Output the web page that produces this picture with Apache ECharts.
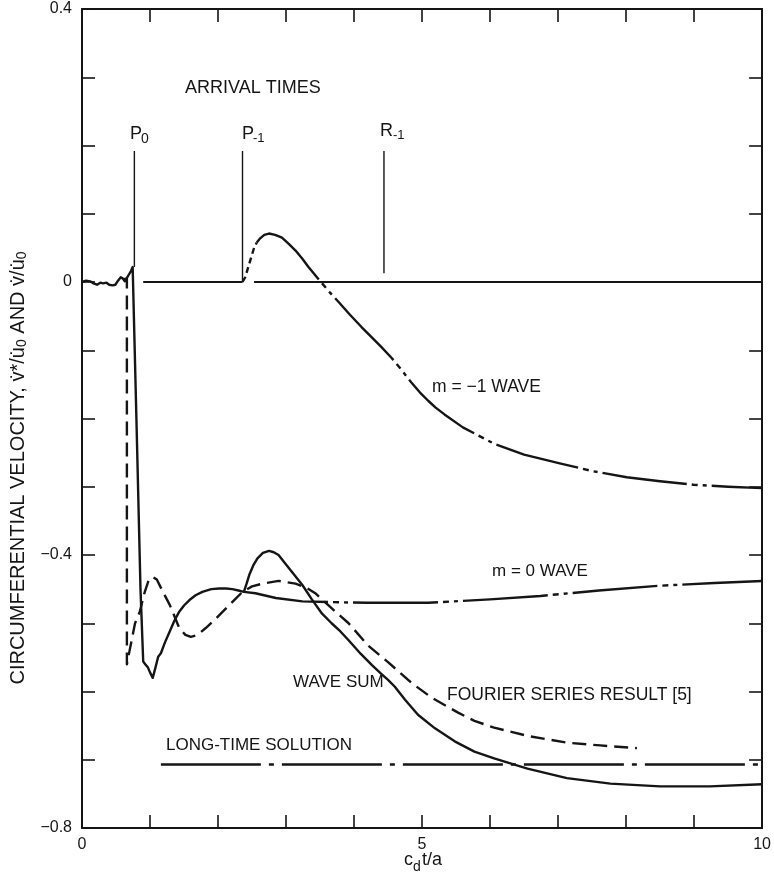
<!DOCTYPE html>
<html>
<head>
<meta charset="utf-8">
<script src="https://cdn.jsdelivr.net/npm/echarts@6/dist/echarts.min.js"></script>
<style>
html,body{margin:0;padding:0;background:#fff;}
#c{width:774px;height:887px;}
</style>
</head>
<body>
<div id="c"></div>
<script>
// ---- data (x = c_d t / a, y = circumferential velocity) ----
const waveSum = [[0,0.000],[0.06,0.002],[0.12,0.001],[0.17,-0.002],[0.22,-0.004],[0.27,-0.001],[0.31,-0.002],[0.36,-0.001],[0.40,-0.004],[0.45,-0.005],[0.49,-0.004],[0.53,0.002],[0.57,0.007],[0.60,0.005],[0.63,0.001],[0.66,0.006],[0.69,0.011],[0.72,0.016],[0.745,0.022],[0.80,-0.20],[0.86,-0.45],[0.90,-0.556],[0.93,-0.560],[0.97,-0.565],[1.00,-0.572],[1.04,-0.580],[1.08,-0.565],[1.12,-0.549],[1.16,-0.544],[1.22,-0.528],[1.29,-0.512],[1.36,-0.496],[1.43,-0.483],[1.50,-0.474],[1.58,-0.466],[1.67,-0.459],[1.77,-0.454],[1.90,-0.450],[2.02,-0.449],[2.12,-0.449],[2.21,-0.450],[2.30,-0.452],[2.38,-0.454],[2.42,-0.442],[2.46,-0.429],[2.52,-0.415],[2.58,-0.405],[2.66,-0.397],[2.75,-0.394],[2.82,-0.396],[2.89,-0.400],[3.00,-0.414],[3.12,-0.429],[3.24,-0.444],[3.38,-0.465],[3.53,-0.486],[3.67,-0.500],[3.80,-0.512],[3.92,-0.525],[4.10,-0.545],[4.26,-0.561],[4.40,-0.574],[4.50,-0.583],[4.60,-0.593],[4.75,-0.612],[4.94,-0.634],[5.19,-0.654],[5.48,-0.673],[5.77,-0.688],[6.06,-0.698],[6.55,-0.713],[7.13,-0.727],[7.77,-0.735],[8.50,-0.739],[9.23,-0.739],[10,-0.736]];
const fourier = [[0.60,0.004],[0.66,0.005],[0.66,-0.56],[0.72,-0.53],[0.78,-0.50],[0.85,-0.483],[0.92,-0.455],[0.98,-0.437],[1.04,-0.432],[1.10,-0.436],[1.18,-0.452],[1.29,-0.473],[1.43,-0.507],[1.52,-0.517],[1.60,-0.520],[1.70,-0.517],[1.82,-0.507],[1.95,-0.495],[2.07,-0.483],[2.22,-0.468],[2.36,-0.454],[2.50,-0.446],[2.65,-0.442],[2.89,-0.438],[3.14,-0.442],[3.30,-0.448],[3.43,-0.456],[3.67,-0.478],[3.92,-0.500],[4.21,-0.533],[4.50,-0.557],[4.84,-0.587],[5.14,-0.609],[5.53,-0.631],[5.77,-0.643],[6.06,-0.653],[6.55,-0.665],[7.13,-0.675],[7.62,-0.679],[8.16,-0.683]];
const mZeroWave = [[2.38,-0.454],[2.55,-0.456],[2.85,-0.463],[3.24,-0.468],[3.63,-0.469],[4.20,-0.470],[5.09,-0.470],[6.00,-0.465],[6.74,-0.460],[7.60,-0.452],[8.50,-0.445],[9.30,-0.441],[10,-0.438]];
const mMinusOneRise = [[2.36,0],[2.40,0.007],[2.46,0.027],[2.53,0.050],[2.57,0.058]];
const mMinusOneWave = [[2.57,0.058],[2.62,0.064],[2.68,0.069],[2.75,0.071],[2.84,0.069],[2.94,0.065],[3.04,0.056],[3.14,0.046],[3.24,0.034],[3.33,0.022],[3.43,0.010],[3.53,-0.002],[3.65,-0.016],[3.77,-0.029],[3.94,-0.048],[4.11,-0.066],[4.25,-0.080],[4.40,-0.095],[4.55,-0.111],[4.70,-0.129],[4.84,-0.147],[4.97,-0.162],[5.09,-0.174],[5.20,-0.184],[5.33,-0.194],[5.60,-0.213],[6.06,-0.237],[6.50,-0.253],[7.04,-0.266],[7.50,-0.277],[8.01,-0.286],[8.50,-0.292],[8.99,-0.297],[9.50,-0.300],[10,-0.302]];
const longTime = [[1.16,-0.707],[10,-0.707]];
const zeroLineA = [[0.90,0],[2.36,0]];
const zeroLineB = [[2.53,0],[10,0]];
const arrivalP0 = [[0.77,0.192],[0.77,0.022]];
const arrivalP1 = [[2.36,0.192],[2.36,0.0]];
const arrivalR1 = [[4.44,0.192],[4.44,0.013]];
const xLabels = {0:'0',5:'5',10:'10'};
const yLabels = {4:'0.4',0:'0',[-4]:'\u22120.4',[-8]:'\u22120.8'};

const FONT = "'Liberation Sans', Arial, sans-serif";
const INK = '#151515';
const chain = [85,5,6,5,4,5];

const chart = echarts.init(document.getElementById('c'), null, {renderer:'canvas'});

function line(data, type, width, z){
  return {type:'line', data:data, symbol:'none', smooth:false, animation:false, z:z||3,
    lineStyle:{color:INK, width:width, type:type, cap:'butt', join:'round'}};
}

const axisCommon = {
  type:'value', splitLine:{show:false},
  axisLine:{show:true, onZero:false, lineStyle:{color:INK, width:2}},
  axisTick:{show:true, inside:true, length:13, lineStyle:{color:INK, width:1.6}}
};

const option = {
  backgroundColor:'#fff',
  animation:false,
  grid:{left:82, right:8, top:9, bottom:59},
  xAxis:[
    Object.assign({}, axisCommon, {min:0, max:10, interval:1, position:'bottom',
      axisLabel:{show:true, margin:9, fontSize:16, color:INK, fontFamily:FONT,
        formatter:v=>{const r=Math.round(v); return xLabels[r]!==undefined && Math.abs(v-r)<1e-6 ? xLabels[r] : '';}}}),
    Object.assign({}, axisCommon, {min:0, max:10, interval:1, position:'top', axisLabel:{show:false}})
  ],
  yAxis:[
    Object.assign({}, axisCommon, {min:-0.8, max:0.4, interval:0.1, position:'left',
      axisLabel:{show:true, margin:10, fontSize:16, color:INK, fontFamily:FONT,
        formatter:v=>{const r=Math.round(v*10); return yLabels[r]!==undefined ? yLabels[r] : '';}}}),
    Object.assign({}, axisCommon, {min:-0.8, max:0.4, interval:0.1, position:'right', axisLabel:{show:false}})
  ],
  series:[
    line(zeroLineA,'solid',2.2),
    line(zeroLineB,'solid',2.2),
    line(arrivalP0,'solid',1.4),
    line(arrivalP1,'solid',1.4),
    line(arrivalR1,'solid',1.4),
    line(waveSum,'solid',2.4,5),
    line(fourier,[14,7],2.4,4),
    line(mZeroWave,chain,2.4,4),
    line(mMinusOneRise,[6,4],2.4,4),
    line(mMinusOneWave,chain,2.4,4),
    line(longTime,[100,8,5,8],2.6,4)
  ],
  graphic:[
    {type:'text', left:185, top:79, style:{text:'ARRIVAL TIMES', font:'18px '+FONT, fill:INK}},
    {type:'text', left:130, top:125, style:{text:'P', font:'18px '+FONT, fill:INK}},
    {type:'text', left:141, top:132, style:{text:'0', font:'14px '+FONT, fill:INK}},
    {type:'text', left:242, top:125, style:{text:'P', font:'18px '+FONT, fill:INK}},
    {type:'text', left:253, top:132, style:{text:'-1', font:'13px '+FONT, fill:INK}},
    {type:'text', left:380, top:122, style:{text:'R', font:'18px '+FONT, fill:INK}},
    {type:'text', left:393, top:129, style:{text:'-1', font:'13px '+FONT, fill:INK}},
    {type:'text', left:432, top:378, style:{text:'m = \u22121 WAVE', font:'17.5px '+FONT, fill:INK}},
    {type:'text', left:492, top:563, style:{text:'m = 0 WAVE', font:'17px '+FONT, fill:INK}},
    {type:'text', left:293, top:674, style:{text:'WAVE SUM', font:'17px '+FONT, fill:INK}},
    {type:'text', left:447, top:686, style:{text:'FOURIER SERIES RESULT [5]', font:'17.5px '+FONT, fill:INK}},
    {type:'text', left:166, top:737, style:{text:'LONG-TIME SOLUTION', font:'17px '+FONT, fill:INK}},
    {type:'text', left:404, top:851, style:{text:'c', font:'18px '+FONT, fill:INK}},
    {type:'text', left:413, top:860, style:{text:'d', font:'14px '+FONT, fill:INK}},
    {type:'text', left:422, top:851, style:{text:'t/a', font:'18px '+FONT, fill:INK}},
    {type:'text', x:18, y:468, rotation:Math.PI/2,
      style:{text:'CIRCUMFERENTIAL VELOCITY, v\u0307*/u\u0307{s|0} AND v\u0307/u\u0307{s|0}',
        font:'20px '+FONT, fill:INK, align:'center', verticalAlign:'middle',
        rich:{s:{fontSize:14, fontFamily:FONT, fill:INK, padding:[9,0,0,0]}}}}
  ]
};
chart.setOption(option);
</script>
</body>
</html>
